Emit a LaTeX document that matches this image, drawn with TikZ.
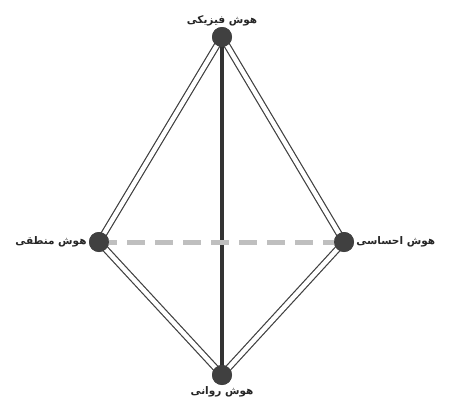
\documentclass[tikz,border=0pt]{standalone}
\usepackage{fontspec}
\TeXXeTstate=1
\newfontfamily\farsifont[Script=Arabic]{DejaVu Sans}
\usepackage{tikz}

\begin{document}
\begin{tikzpicture}[
        x=1pt, y=-1pt,
        vertex/.style={circle, fill=black!75, minimum size=20pt, inner sep=0pt},
        lbl/.style={font=\farsifont\bfseries\fontsize{10.5}{12}\selectfont, text=black!85, inner sep=2pt},
        side/.style={draw=black!75, line width=1.2pt, double=white, double distance=4.5pt},
        axis/.style={draw=black!80, line width=4pt},
        cross/.style={draw=black!25, line width=5pt, dash pattern=on 18pt off 10pt}
    ]
    \useasboundingbox (0,0) rectangle (459,407);

    % VERTICES
    \node[vertex] (phys) at (222, 37) {};
    \node[vertex] (logic) at (99, 242) {};
    \node[vertex] (emo) at (344, 242) {};
    \node[vertex] (psy) at (222, 375) {};

    % EDGES
    \draw[side] (phys.center) -- (logic.center);
    \draw[side] (phys.center) -- (emo.center);
    \draw[side] (logic.center) -- (psy.center);
    \draw[side] (emo.center) -- (psy.center);
    \draw[axis] (phys.center) -- (psy.center);
    \draw[cross] (logic.center) -- (emo.center);

    % redraw vertices on top
    \node[vertex] at (phys) {};
    \node[vertex] at (logic) {};
    \node[vertex] at (emo) {};
    \node[vertex] at (psy) {};

    % LABELS
    \node[lbl, above=-1pt] (lphys) at (phys.north) {\beginR هوش فیزیکی\endR};
    \node[lbl, left=0pt] (llogic) at (logic.west) {\beginR هوش منطقی\endR};
    \node[lbl, right=0pt] (lemo) at (emo.east) {\beginR هوش احساسی\endR};
    \node[lbl, below=-1pt] (lpsy) at (psy.south) {\beginR هوش روانی\endR};
\end{tikzpicture}
\end{document}
